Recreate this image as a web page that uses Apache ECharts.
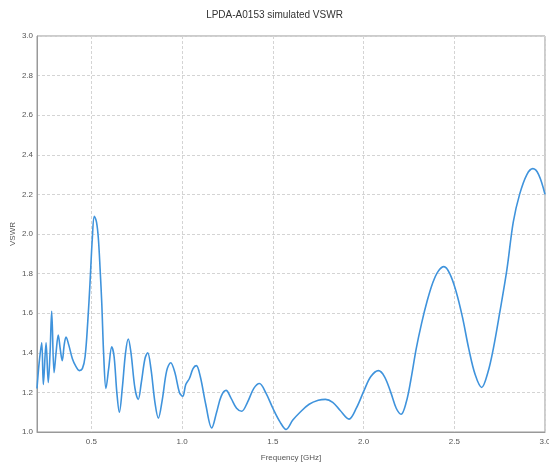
<!DOCTYPE html>
<html>
<head>
<meta charset="utf-8">
<script src="https://cdn.jsdelivr.net/npm/echarts@6/dist/echarts.min.js"></script>
<style>html,body{margin:0;padding:0;background:#fff}#c{width:549px;height:466px}</style>
</head>
<body>
<div id="c"></div>
<script>
const freq = [0.200,0.212,0.226,0.235,0.250,0.262,0.272,0.281,0.294,0.305,0.317,0.328,0.339,0.350,0.360,0.375,0.395,0.415,0.433,0.450,0.465,0.480,0.492,0.505,0.516,0.528,0.538,0.548,0.557,0.568,0.580,0.595,0.612,0.625,0.640,0.654,0.670,0.688,0.703,0.718,0.740,0.758,0.775,0.795,0.810,0.828,0.850,0.869,0.890,0.915,0.937,0.960,0.985,1.003,1.020,1.040,1.060,1.078,1.100,1.130,1.163,1.190,1.215,1.242,1.270,1.300,1.328,1.360,1.395,1.426,1.460,1.500,1.540,1.573,1.610,1.650,1.700,1.750,1.790,1.830,1.870,1.920,1.960,2.003,2.040,2.082,2.115,2.150,2.180,2.207,2.235,2.260,2.290,2.320,2.350,2.380,2.410,2.443,2.475,2.510,2.545,2.580,2.615,2.651,2.685,2.715,2.750,2.790,2.825,2.860,2.900,2.933,2.965,3.000];
const vswr = [1.22,1.35,1.45,1.24,1.45,1.25,1.40,1.61,1.30,1.40,1.49,1.42,1.36,1.44,1.48,1.44,1.37,1.33,1.31,1.32,1.38,1.56,1.75,1.98,2.09,2.06,1.98,1.82,1.65,1.38,1.22,1.32,1.43,1.38,1.20,1.10,1.22,1.40,1.47,1.40,1.22,1.165,1.25,1.37,1.40,1.32,1.15,1.07,1.16,1.31,1.35,1.30,1.20,1.18,1.24,1.27,1.32,1.335,1.28,1.14,1.02,1.10,1.18,1.21,1.17,1.12,1.105,1.15,1.22,1.245,1.20,1.12,1.05,1.013,1.06,1.10,1.14,1.16,1.165,1.15,1.11,1.065,1.12,1.21,1.28,1.31,1.28,1.20,1.12,1.09,1.15,1.26,1.42,1.55,1.66,1.75,1.81,1.835,1.80,1.71,1.58,1.42,1.29,1.225,1.30,1.42,1.60,1.82,2.06,2.20,2.30,2.33,2.30,2.20];
const xTicks = [0.5,1.0,1.5,2.0,2.5,3.0];

const chart = echarts.init(document.getElementById('c'), null, {renderer:'canvas'});
const gridLine = {show:true, lineStyle:{color:'#d4d4d4', type:[3,2], width:1}};
chart.setOption({
  animation:false,
  title:{text:'LPDA-A0153 simulated VSWR', left:'center', top:5,
    textStyle:{fontSize:10, fontWeight:'normal', color:'#333', fontFamily:'Liberation Sans'}},
  grid:{left:37, right:4, top:36, bottom:34, show:true, borderColor:'#999', borderWidth:1, outerBoundsMode:'none'},
  xAxis:{type:'value', min:0.2, max:3.0,
    name:'Frequency [GHz]', nameLocation:'middle', nameGap:22, nameMoveOverlap:false,
    nameTextStyle:{fontSize:8, color:'#555', fontFamily:'Liberation Sans'},
    axisLine:{show:true, lineStyle:{color:'#999'}},
    axisTick:{show:false, customValues:xTicks},
    axisLabel:{customValues:xTicks, fontSize:8, color:'#555', margin:6, fontFamily:'Liberation Sans',
      formatter:v=>v.toFixed(1)},
    splitLine:gridLine},
  yAxis:{type:'value', min:1.0, max:3.0, interval:0.2,
    name:'VSWR', nameLocation:'middle', nameGap:20, nameMoveOverlap:false,
    nameTextStyle:{fontSize:8, color:'#555', fontFamily:'Liberation Sans'},
    axisLine:{show:true, lineStyle:{color:'#999'}},
    axisTick:{show:false},
    axisLabel:{fontSize:8, color:'#555', margin:4, fontFamily:'Liberation Sans',
      formatter:v=>v.toFixed(1)},
    splitLine:gridLine},
  series:[{type:'line', data:freq.map((f,i)=>[f,vswr[i]]), smooth:0.35, symbol:'none',
    lineStyle:{color:'#3f93dc', width:1.6}, clip:true}]
});
</script>
</body>
</html>
